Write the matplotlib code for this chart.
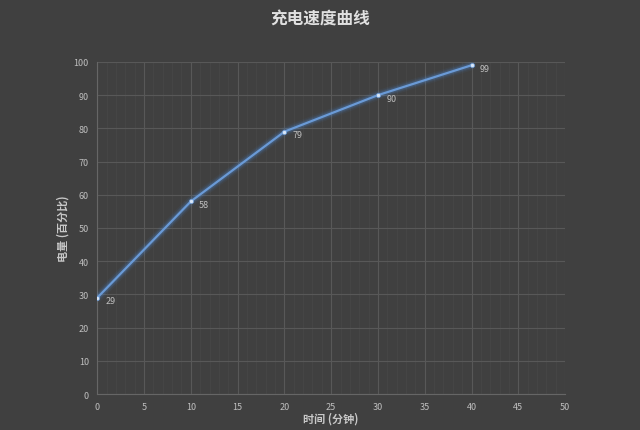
import matplotlib
matplotlib.use('Agg')
import matplotlib.pyplot as plt
from matplotlib.ticker import MultipleLocator

plt.rcParams['font.family'] = ['Noto Sans CJK SC', 'DejaVu Sans']

# charge curve: minutes vs battery percent
minutes = [0, 10, 20, 30, 40]
percent = [29, 58, 79, 90, 99]
x_ticks = [0, 5, 10, 15, 20, 25, 30, 35, 40, 45, 50]
y_ticks = [0, 10, 20, 30, 40, 50, 60, 70, 80, 90, 100]

bg = '#404040'
fig = plt.figure(figsize=(6.4, 4.31), dpi=100, facecolor=bg)
ax = fig.add_axes([0.152, 0.0835, 0.731, 0.7705], facecolor=bg)

# glow behind the line
for w, a in [(7, 0.06), (5, 0.10), (3.5, 0.18)]:
    ax.plot(minutes, percent, color='#4f8fe0', lw=w, alpha=a, solid_capstyle='round', zorder=3)
ax.plot(minutes, percent, color='#6a9ad6', lw=1.6, zorder=4)
ax.plot(minutes, percent, 'o', ms=3, color='#d8e6f7', mec='#6a9ad6', mew=0.5, zorder=5)

for x, y in zip(minutes, percent):
    ax.annotate(str(y), (x, y), xytext=(6, -4), textcoords='offset points',
                color='#bfbfbf', fontsize=6.5)

ax.set_xlim(0, 50)
ax.set_ylim(0, 100)
ax.set_xticks(x_ticks)
ax.set_yticks(y_ticks)
ax.xaxis.set_minor_locator(MultipleLocator(1))
ax.grid(which='major', color='#585858', lw=0.8)
ax.grid(which='minor', axis='x', color='#484848', lw=0.5)
ax.set_axisbelow(True)
for s in ax.spines.values():
    s.set_visible(False)
ax.spines['left'].set_visible(True)
ax.spines['left'].set_color('#666666')
ax.spines['bottom'].set_visible(True)
ax.spines['bottom'].set_color('#666666')
ax.tick_params(which='both', length=0, colors='#bfbfbf', labelsize=6.5, pad=6)

ax.set_xlabel('时间 (分钟)', color='#c8c8c8', fontsize=8, fontweight='bold', labelpad=0)
ax.set_ylabel('电量 (百分比)', color='#c8c8c8', fontsize=8, fontweight='bold', labelpad=3)
fig.suptitle('充电速度曲线', color='#e0e0e0', fontsize=12, fontweight='bold', y=0.975)

fig.savefig('out.png', dpi=100, facecolor=bg)
